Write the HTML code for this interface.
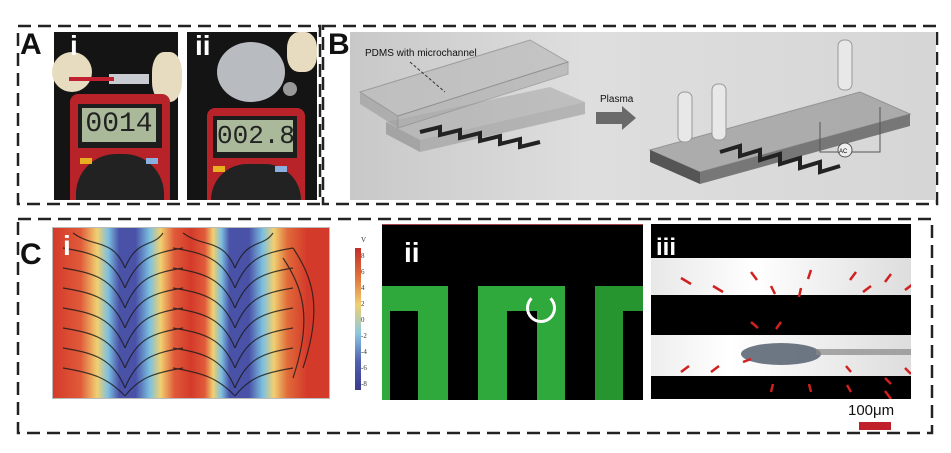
<!DOCTYPE html>
<html><head><style>
body{margin:0;width:951px;height:453px;background:#fff;position:relative;overflow:hidden;font-family:"Liberation Sans",sans-serif}
.a{position:absolute}
.lbl{position:absolute;font-weight:bold;font-size:30px;color:#111}
.w{position:absolute;font-weight:bold;font-size:28px;color:#fff}
</style></head><body>
<svg width="951" height="453" style="position:absolute;left:0;top:0" fill="none" stroke="#222" stroke-width="2.5" stroke-dasharray="13,7">
 <rect x="18" y="26" width="302" height="178"/>
 <rect x="323" y="26" width="614" height="178"/>
 <rect x="18" y="219" width="914" height="214"/>
</svg>
<div class="lbl" style="left:20px;top:28px">A</div>
<div class="lbl" style="left:328px;top:28px">B</div>
<div class="lbl" style="left:20px;top:238px">C</div>

<!-- A i -->
<div class="a" style="left:54px;top:32px;width:124px;height:168px;background:#141414">
 <div class="a" style="left:-2px;top:20px;width:40px;height:40px;background:#e8dcc0;border-radius:50%"></div>
 <div class="a" style="left:98px;top:20px;width:30px;height:50px;background:#e8dcc0;border-radius:40%"></div>
 <div class="a" style="left:55px;top:42px;width:40px;height:10px;background:#c8ccd0"></div>
 <div class="a" style="left:15px;top:45px;width:45px;height:4px;background:#c02030"></div>
 <div class="a" style="left:16px;top:62px;width:100px;height:106px;background:#b8232a;border-radius:8px 8px 0 0"></div>
 <div class="a" style="left:24px;top:72px;width:84px;height:44px;background:#1d1d1d"></div>
 <div class="a" style="left:28px;top:76px;width:74px;height:34px;background:#a9b99a;font:28px 'Liberation Mono',monospace;color:#222;text-align:center;line-height:34px">0014</div>
 <div class="a" style="left:22px;top:122px;width:88px;height:46px;background:#222;border-radius:40px 40px 0 0"></div>
 <div class="a" style="left:26px;top:126px;width:12px;height:6px;background:#e8b020"></div>
 <div class="a" style="left:92px;top:126px;width:12px;height:6px;background:#8ab0e0"></div>
 <div class="w" style="left:16px;top:-2px">i</div>
</div>
<!-- A ii -->
<div class="a" style="left:187px;top:32px;width:130px;height:168px;background:#141414">
 <div class="a" style="left:30px;top:10px;width:68px;height:60px;background:#b8bcc0;border-radius:50%"></div>
 <div class="a" style="left:96px;top:50px;width:14px;height:14px;background:#999;border-radius:50%"></div>
 <div class="a" style="left:100px;top:0px;width:30px;height:40px;background:#e8dcc0;border-radius:40%"></div>
 <div class="a" style="left:20px;top:76px;width:98px;height:92px;background:#b8232a;border-radius:8px 8px 0 0"></div>
 <div class="a" style="left:26px;top:84px;width:84px;height:42px;background:#1d1d1d"></div>
 <div class="a" style="left:30px;top:88px;width:76px;height:32px;background:#a9b99a;font:26px 'Liberation Mono',monospace;color:#222;text-align:center;line-height:32px">002.8</div>
 <div class="a" style="left:24px;top:132px;width:90px;height:36px;background:#222;border-radius:40px 40px 0 0"></div>
 <div class="a" style="left:26px;top:134px;width:12px;height:6px;background:#e8b020"></div>
 <div class="a" style="left:88px;top:134px;width:12px;height:6px;background:#8ab0e0"></div>
 <div class="w" style="left:8px;top:-2px">ii</div>
</div>
<!-- B -->
<div class="a" style="left:350px;top:32px;width:586px;height:168px;background:linear-gradient(90deg,#c8c8c8,#dedede 40%,#d6d6d6)">
 <svg width="586" height="168" style="position:absolute;left:0;top:0">
  <polygon points="36,90 200,55 235,70 70,108" fill="#aaa" opacity=".6"/>
  <polygon points="36,90 70,108 70,120 36,102" fill="#888" opacity=".6"/>
  <polygon points="70,108 235,70 235,82 70,120" fill="#999" opacity=".6"/>
  <polygon points="10,60 180,8 218,30 48,84" fill="#bbb" opacity=".7" stroke="#888"/>
  <polygon points="10,60 48,84 48,96 10,72" fill="#999" opacity=".6"/>
  <polygon points="48,84 218,30 218,42 48,96" fill="#aaa" opacity=".6" stroke="#888"/>
  <path d="M70,100 l20,-5 v8 l20,-5 v8 l20,-5 v8 l20,-5 v8 l20,-5 v8 l20,-5" stroke="#222" stroke-width="4" fill="none"/>
  <line x1="60" y1="30" x2="95" y2="60" stroke="#333" stroke-dasharray="3,2"/>
  <polygon points="246,80 272,80 272,74 286,86 272,98 272,92 246,92" fill="#6a6a6a"/>
  <polygon points="300,118 510,60 560,82 350,140" fill="#999" opacity=".7" stroke="#777"/>
  <polygon points="300,118 350,140 350,152 300,130" fill="#555"/>
  <polygon points="350,140 560,82 560,94 350,152" fill="#777"/>
  <path d="M370,120 l20,-6 v10 l20,-6 v10 l20,-6 v10 l20,-6 v10 l20,-6 v10 l20,-6" stroke="#222" stroke-width="4" fill="none"/>
  <rect x="328" y="60" width="14" height="50" fill="#e8e8e8" stroke="#999" rx="6"/>
  <rect x="362" y="52" width="14" height="56" fill="#e8e8e8" stroke="#999" rx="6"/>
  <rect x="488" y="8" width="14" height="50" fill="#e8e8e8" stroke="#999" rx="6"/>
  <polyline points="470,90 470,120 530,120 530,75" stroke="#555" fill="none"/>
  <circle cx="495" cy="118" r="7" fill="#eee" stroke="#555"/>
  <text x="489" y="121" font-size="6" font-family="Liberation Sans">AC</text>
 </svg>
 <div class="a" style="left:15px;top:16px;font-size:10px;color:#111">PDMS with microchannel</div>
 <div class="a" style="left:250px;top:62px;font-size:10px;color:#111">Plasma</div>
</div>

<!-- C i -->
<div class="a" style="left:52px;top:227px;width:276px;height:170px;background:linear-gradient(90deg,#d43a2a 0%,#e05a3a 10%,#f0d070 16%,#7cc0e0 20%,#4a52a8 24%,#4a52a8 30%,#7cc0e0 35%,#f0d070 39%,#e05a3a 44%,#d43a2a 50%,#e05a3a 55%,#f0d070 58%,#7cc0e0 61%,#4a52a8 64%,#4a52a8 71%,#7cc0e0 76%,#f0d070 80%,#e06a3a 85%,#d43a2a 92%);border:1px solid #bbb">
 <svg width="276" height="170" style="position:absolute;left:0;top:0" fill="none" stroke="#1a1a1a" stroke-width="1.2" opacity=".8">
  <g id="s">
  <path d="M10,20 C40,25 60,30 72,60 M10,40 C40,45 60,50 72,80 M10,60 C40,65 60,70 72,100 M10,80 C40,85 60,90 72,120 M10,100 C40,105 60,110 72,140 M10,120 C40,125 60,130 72,160 M10,140 C40,145 55,150 72,168"/>
  <path d="M130,20 C100,25 84,30 72,60 M130,40 C100,45 84,50 72,80 M130,60 C100,65 84,70 72,100 M130,80 C100,85 84,90 72,120 M130,100 C100,105 84,110 72,140 M130,120 C100,125 84,130 72,160 M130,140 C100,145 86,150 72,168"/>
  <path d="M20,5 C40,20 60,10 72,40 M110,5 C100,20 84,10 72,40"/>
  </g>
  <use href="#s" x="110"/>
  <path d="M240,20 C260,50 270,80 250,140 M230,30 C250,60 260,90 240,150"/>
 </svg>
 <div class="w" style="left:10px;top:2px">i</div>
</div>
<div class="a" style="left:355px;top:248px;width:6px;height:142px;background:linear-gradient(#c0302a,#e0703a 20%,#f0d070 40%,#8ac8e0 60%,#5060b0 80%,#3a3a90)"></div>
<div class="a" style="left:361px;top:232px;font:7px 'Liberation Serif',serif;color:#333;line-height:16px">V<br>8<br>6<br>4<br>2<br>0<br>-2<br>-4<br>-6<br>-8</div>

<!-- C ii -->
<div class="a" style="left:382px;top:224px;width:261px;height:175px;background:#000;border-top:1px solid #a44">
 <div class="a" style="left:0;top:61px;width:66px;height:114px;background:#2fa83c"></div>
 <div class="a" style="left:8px;top:86px;width:28px;height:89px;background:#000"></div>
 <div class="a" style="left:96px;top:61px;width:87px;height:114px;background:#2fa83c"></div>
 <div class="a" style="left:125px;top:86px;width:30px;height:89px;background:#000"></div>
 <div class="a" style="left:213px;top:61px;width:48px;height:114px;background:#26952f"></div>
 <div class="a" style="left:241px;top:86px;width:20px;height:89px;background:#000"></div>
 <div class="a" style="left:144px;top:68px;width:24px;height:24px;border:3px solid #fff;border-top-color:transparent;border-radius:50%"></div>
 <div class="w" style="left:22px;top:12px">ii</div>
</div>

<!-- C iii -->
<div class="a" style="left:651px;top:224px;width:260px;height:175px;background:#000">
 <div class="a" style="left:0;top:34px;width:260px;height:37px;background:linear-gradient(90deg,#e8e8e8,#fff 40%,#ddd)"></div>
 <div class="a" style="left:0;top:111px;width:260px;height:41px;background:linear-gradient(90deg,#eee,#fff 30%,#ddd)"></div>
 <div class="a" style="left:90px;top:119px;width:80px;height:22px;background:#556070;border-radius:50%;opacity:.85"></div>
 <div class="a" style="left:165px;top:125px;width:95px;height:6px;background:#888;opacity:.7"></div>
 <svg width="260" height="175" style="position:absolute;left:0;top:0" stroke="#d02020" stroke-width="2.5" fill="none">
  <path d="M30,54 l10,6 M62,62 l10,6 M100,48 l6,8 M120,62 l4,8 M160,46 l-3,9 M150,64 l-2,9 M205,48 l-6,8 M220,62 l-8,6 M262,60 l-8,6 M240,50 l-6,8"/>
  <path d="M100,98 l7,6 M130,98 l-5,7 M30,148 l8,-6 M60,148 l8,-6 M120,168 l2,-8 M160,168 l-2,-8 M200,168 l-4,-7 M240,160 l-6,-6 M240,175 l-6,-8 M200,148 l-5,-6 M260,150 l-6,-6 M100,135 l-8,3"/>
 </svg>
 <div class="w" style="left:5px;top:10px;font-size:24px">iii</div>
</div>
<div class="a" style="left:848px;top:402px;font-size:15px;color:#111">100μm</div>
<div class="a" style="left:859px;top:422px;width:32px;height:8px;background:#c0202a"></div>
</body></html>
